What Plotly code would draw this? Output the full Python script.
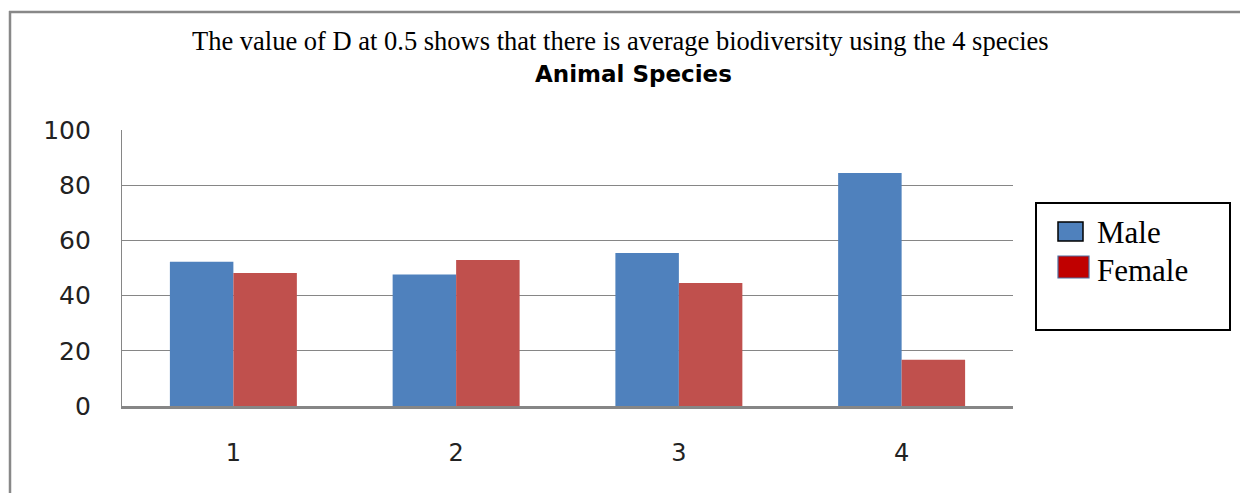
import plotly.graph_objects as go

# ---- data ----
categories = ["1", "2", "3", "4"]
series_names = ["Male", "Female"]
male_values = [52.3, 47.6, 55.4, 84.4]
female_values = [48.2, 52.9, 44.6, 16.8]
y_ticks = [0, 20, 40, 60, 80, 100]
title_line1 = "The value of D at 0.5 shows that there is average biodiversity using the 4 species"
title_line2 = "Animal Species"

# ---- layout geometry (screen pixels; page body has 8px margin) ----
OFF = 8
W, H = 1248 - OFF, 493 - OFF
L, R, T, B = 122, 1013, 130, 406  # plot area in screen pixels
def px(x):
    return (x - L) / (R - L)
def py(y):
    return (B - y) / (B - T)

male_color = "#4F81BD"
female_color = "#C0504D"
grid_color = "#868686"

fig = go.Figure()
fig.add_trace(go.Bar(x=categories, y=male_values, name=series_names[0],
                     marker=dict(color=male_color, line=dict(width=0))))
fig.add_trace(go.Bar(x=categories, y=female_values, name=series_names[1],
                     marker=dict(color=female_color, line=dict(width=0))))

shapes = [
    # outer frame (top and left edges visible)
    dict(type="line", xref="paper", yref="paper", x0=px(9), x1=px(1250), y0=py(12), y1=py(12),
         line=dict(color="#888888", width=2.5)),
    dict(type="line", xref="paper", yref="paper", x0=px(10), x1=px(10), y0=py(11), y1=py(500),
         line=dict(color="#888888", width=2.5)),
    # legend box
    dict(type="rect", xref="paper", yref="paper", x0=px(1036), x1=px(1230), y0=py(203), y1=py(330),
         line=dict(color="#000000", width=2), fillcolor="white", layer="below"),
    # legend swatches
    dict(type="rect", xref="paper", yref="paper", x0=px(1058), x1=px(1083), y0=py(222), y1=py(241),
         line=dict(color="#000000", width=1.5), fillcolor=male_color),
    dict(type="rect", xref="paper", yref="paper", x0=px(1058), x1=px(1089), y0=py(256), y1=py(278),
         line=dict(color="#4F6FA0", width=1.2), fillcolor="#C00000"),
]

annotations = [
    dict(text=title_line1, xref="paper", yref="paper", x=px(620), y=py(41), showarrow=False,
         xanchor="center", yanchor="middle",
         font=dict(family="Liberation Serif", size=26.5, color="#000000")),
    dict(text="<b>" + title_line2 + "</b>", xref="paper", yref="paper", x=px(633), y=py(74),
         showarrow=False, xanchor="center", yanchor="middle",
         font=dict(family="DejaVu Sans", size=23, color="#000000")),
    dict(text=series_names[0], xref="paper", yref="paper", x=px(1095), y=py(232), showarrow=False,
         xanchor="left", yanchor="middle",
         font=dict(family="Liberation Serif", size=31, color="#000000")),
    dict(text=series_names[1], xref="paper", yref="paper", x=px(1095), y=py(270), showarrow=False,
         xanchor="left", yanchor="middle",
         font=dict(family="Liberation Serif", size=31, color="#000000")),
]

fig.update_layout(
    width=W, height=H,
    margin=dict(l=L - OFF, r=1248 - R, t=T - OFF, b=493 - B, pad=0),
    paper_bgcolor="white", plot_bgcolor="white",
    barmode="group", bargap=0.43, bargroupgap=0,
    showlegend=False,
    shapes=shapes, annotations=annotations,
    xaxis=dict(type="category", range=[-0.5, 3.5], showgrid=False,
               showline=True, linecolor=grid_color, linewidth=2.5,
               ticks="", ticklabelstandoff=23,
               tickfont=dict(family="DejaVu Sans", size=24, color="#222222")),
    yaxis=dict(range=[0, 100], tickvals=y_ticks, showgrid=True, gridcolor=grid_color, gridwidth=1.3,
               showline=True, linecolor=grid_color, linewidth=1.3, zeroline=False,
               ticks="", ticklabelstandoff=25,
               tickfont=dict(family="DejaVu Sans", size=25, color="#222222")),
)

fig.write_html("out.html")
